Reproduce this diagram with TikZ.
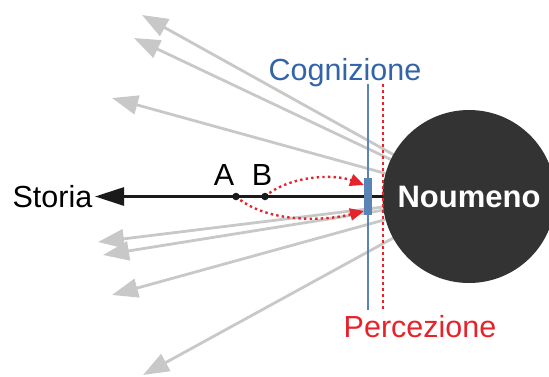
\documentclass[tikz,border=0pt]{standalone}
\usepackage{fontspec}
\setmainfont{Liberation Sans}
\usetikzlibrary{arrows.meta,calc}
\definecolor{grayarr}{HTML}{C8C8C8}
\definecolor{cogline}{HTML}{5A84B6}
\definecolor{cogtext}{HTML}{3464A8}
\definecolor{percred}{HTML}{E5232A}
\definecolor{noumfill}{HTML}{333333}
\definecolor{blackline}{HTML}{1A1A1A}
\begin{document}
\begin{tikzpicture}[x=1pt,y=-1pt,
  bigtext/.style={font=\fontsize{30.5}{36}\selectfont, inner sep=0pt},
  grayray/.style={draw=grayarr, line width=2.8pt, -{Triangle[length=26pt,width=19pt]}},
  historyray/.style={draw=blackline, line width=2.8pt, -{Triangle[length=29pt,width=18pt]}},
  percdots/.style={draw=percred, line width=2.6pt, dash pattern=on 2.6pt off 3.4pt},
  percarrow/.style={draw=percred, line width=2.4pt, dash pattern=on 2.4pt off 3.2pt, -{Triangle[length=14pt,width=12pt,fill=percred]}},
  evdot/.style={circle, fill=blackline, minimum size=7.5pt, inner sep=0pt},
]
\useasboundingbox (0,0) rectangle (549,376);
% ray targets
\coordinate (t1) at (142,15);
\coordinate (t2) at (134,38);
\coordinate (t3) at (112,98);
\coordinate (t4) at (98,242);
\coordinate (t5) at (103,255);
\coordinate (t6) at (112,295);
\coordinate (t7) at (143,375);
\coordinate (nc) at (469,196.5);
\foreach \t in {t1,t2,t3,t4,t5,t6,t7} {
  \draw[grayray] (nc) -- (\t);
}
% Storia
\node[bigtext, anchor=east, inner sep=2.5pt] (storia) at (95,196.5) {Storia};
\draw[historyray] (nc) -- (storia.east);
% Noumeno
\node[circle, fill=noumfill, minimum size=173pt, inner sep=0pt, text=white,
      font=\fontsize{31}{36}\selectfont\bfseries] (noumeno) at (nc) {Noumeno};
% Cognizione line
\coordinate (cogtop) at (368,84);
\coordinate (cogbot) at (368,310);
\draw[cogline, line width=2.6pt] (cogtop) -- (cogbot);
\node[fill=cogline, minimum width=7.5pt, minimum height=37pt, inner sep=0pt] (cog) at (368,196.5) {};
\node[bigtext, text=cogtext, anchor=base] (cogname) at (345,80) {Cognizione};
% Percezione line
\coordinate (perctop) at (383,84);
\coordinate (percbot) at (383,309);
\draw[percdots] (perctop) -- (percbot);
\node[bigtext, text=percred, anchor=base] (percname) at (420,337) {Percezione};
% A and B
\coordinate (ac) at (236,196.5);
\coordinate (bc) at (265,196.5);
\draw[percarrow] (bc) .. controls (290,175) and (335,174) .. ($(cog.west)+(0,-11.5)$);
\draw[percarrow] (ac) .. controls (265,222) and (320,222) .. ($(cog.west)+(0,14.5)$);
\node[evdot] (a) at (ac) {};
\node[evdot] (b) at (bc) {};
\node[bigtext, anchor=base] (alabel) at (224,185) {A};
\node[bigtext, anchor=base] (blabel) at (262,185) {B};
\end{tikzpicture}
\end{document}
